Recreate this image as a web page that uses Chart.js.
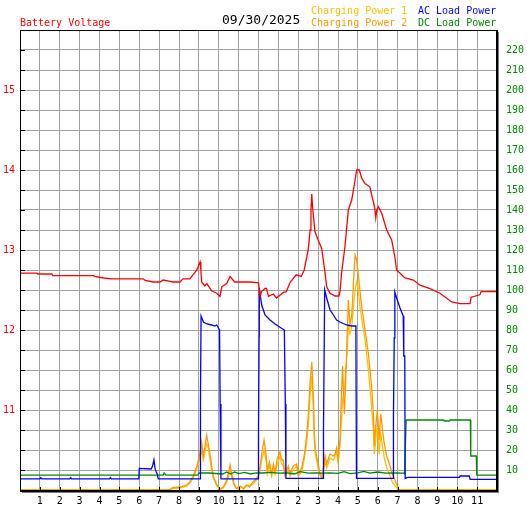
<!DOCTYPE html>
<html>
<head>
<meta charset="utf-8">
<script src="https://cdn.jsdelivr.net/npm/chart.js"></script>
<style>
  body { margin: 0; background: #fff; }
  #wrap { position: relative; width: 527px; height: 510px; }
  .lbl { position: absolute; font-family: "DejaVu Sans Mono", monospace; font-size: 10px; line-height: 12px; white-space: pre; }
  #date { font-size: 13px; line-height: 15px; }
</style>
</head>
<body>
<div id="wrap">
  <canvas id="powerChart" width="527" height="510"></canvas>
  <div class="lbl" style="left:20px; top:17px; color:#ff0000;">Battery Voltage</div>
  <div class="lbl" id="date" style="left:222px; top:12px; color:#000;">09/30/2025</div>
  <div class="lbl" style="left:311px; top:5px; color:#ffc000;">Charging Power 1</div>
  <div class="lbl" style="left:311px; top:17px; color:#ff9900;">Charging Power 2</div>
  <div class="lbl" style="left:418px; top:5px; color:#0000ff;">AC Load Power</div>
  <div class="lbl" style="left:418px; top:17px; color:#008800;">DC Load Power</div>
</div>
<script>
// battery voltage (hour of day, volts)
const voltTimes = [0, 0.84, 0.9, 1.6, 1.65, 3.7, 3.75, 4.2, 4.6, 6.2, 6.3, 6.7, 7.05, 7.2, 7.5, 7.7, 8.05, 8.2, 8.55, 8.7, 8.9, 9.06, 9.1, 9.14, 9.3, 9.4, 9.64, 9.9, 10.06, 10.15, 10.4, 10.57, 10.8, 11.57, 12.0, 12.08, 12.15, 12.33, 12.4, 12.5, 12.75, 12.9, 13.25, 13.4, 13.6, 13.9, 14.15, 14.3, 14.5, 14.6, 14.64, 14.68, 14.72, 14.84, 15.0, 15.18, 15.26, 15.35, 15.43, 15.6, 15.85, 16.05, 16.1, 16.18, 16.35, 16.52, 16.69, 16.86, 16.94, 17.07, 17.19, 17.36, 17.6, 17.78, 17.85, 17.9, 17.95, 18.03, 18.2, 18.45, 18.7, 18.87, 18.95, 19.2, 19.37, 19.79, 20.13, 20.6, 21.13, 21.72, 22.14, 22.64, 22.7, 23.14, 23.2, 24];
const voltValues = [12.71, 12.71, 12.70, 12.70, 12.68, 12.68, 12.67, 12.65, 12.64, 12.64, 12.62, 12.60, 12.60, 12.625, 12.61, 12.60, 12.60, 12.64, 12.64, 12.69, 12.75, 12.85, 12.75, 12.60, 12.55, 12.58, 12.49, 12.46, 12.42, 12.54, 12.58, 12.67, 12.60, 12.60, 12.59, 12.42, 12.48, 12.52, 12.52, 12.42, 12.45, 12.40, 12.47, 12.48, 12.60, 12.69, 12.67, 12.75, 13.0, 13.25, 13.5, 13.70, 13.54, 13.23, 13.125, 13.02, 12.875, 12.71, 12.54, 12.46, 12.425, 12.425, 12.48, 12.71, 13.04, 13.5, 13.625, 13.875, 14.0, 14.0, 13.9, 13.83, 13.79, 13.6, 13.52, 13.4, 13.5, 13.54, 13.46, 13.25, 13.125, 12.9, 12.75, 12.69, 12.65, 12.625, 12.56, 12.52, 12.46, 12.35, 12.33, 12.33, 12.41, 12.44, 12.48, 12.48];

// AC load power (watts)
const acTimes = [0, 1.0, 1.05, 1.1, 2.5, 2.55, 2.6, 4.5, 4.55, 4.6, 5.98, 6.0, 6.6, 6.67, 6.74, 6.8, 6.9, 6.96, 9.06, 9.08, 9.11, 9.23, 9.4, 9.65, 9.8, 9.9, 10.04, 10.07, 10.11, 11.98, 12.0, 12.03, 12.04, 12.16, 12.33, 12.58, 12.83, 13.08, 13.3, 13.35, 13.38, 15.25, 15.27, 15.33, 15.43, 15.6, 15.77, 15.93, 16.1, 16.43, 16.69, 16.9, 16.93, 18.77, 18.79, 18.83, 18.86, 18.95, 19.12, 19.2, 19.28, 19.31, 19.36, 19.38, 19.5, 22.1, 22.15, 22.6, 22.65, 24];
const acValues = [5.6, 5.6, 6.2, 5.6, 5.6, 6.2, 5.6, 5.6, 6.2, 5.6, 5.6, 10.8, 10.5, 12, 15, 10.3, 8, 5.6, 5.6, 46, 87, 84, 83, 82.5, 82, 82.5, 80, 43, 5.6, 5.6, 29, 77, 101, 92.5, 87.5, 85, 83, 81.4, 80, 43, 5.8, 5.8, 30, 100, 96, 90, 87.5, 85, 84, 82.5, 82, 82, 5.8, 5.8, 37, 76, 99, 96, 91, 89, 87, 67, 67, 5.8, 6.3, 6.3, 7, 7, 5.3, 5.3];

// DC load power (watts)
const dcTimes = [0, 7.2, 7.25, 7.35, 8.95, 9.0, 9.5, 10.2, 10.4, 10.6, 10.8, 11.0, 11.3, 11.6, 11.9, 12.2, 12.6, 13.0, 13.4, 13.8, 14.1, 14.5, 14.9, 15.2, 15.6, 16.0, 16.3, 16.6, 17.0, 17.3, 17.6, 18.0, 18.4, 18.8, 19.3, 19.35, 19.38, 19.43, 21.3, 21.35, 21.6, 21.65, 22.66, 22.68, 22.96, 22.98, 24];
const dcValues = [7.4, 7.4, 8.5, 7.4, 7.4, 8.5, 8.5, 8.0, 9.0, 8.0, 9.0, 8.2, 8.8, 8.0, 8.6, 8.5, 8.8, 8.4, 8.6, 8.0, 9.2, 8.4, 8.6, 8.4, 8.6, 8.3, 9.2, 8.2, 8.6, 9.3, 8.4, 9.0, 8.4, 8.6, 8.4, 8, 20, 35, 35, 34.5, 34.5, 35, 35, 17, 17, 7.4, 7.4];

// charging power 1 and 2 (watts)
const chgTimes = [0, 7.5, 7.7, 8.05, 8.39, 8.55, 8.72, 8.89, 9.02, 9.1, 9.14, 9.22, 9.31, 9.39, 9.47, 9.56, 9.64, 9.73, 9.9, 10.06, 10.23, 10.4, 10.5, 10.57, 10.65, 10.77, 10.9, 11.1, 11.25, 11.4, 11.55, 11.66, 11.82, 11.99, 12.08, 12.16, 12.28, 12.38, 12.44, 12.55, 12.66, 12.75, 12.83, 12.95, 13.08, 13.17, 13.25, 13.33, 13.5, 13.59, 13.75, 13.92, 14.0, 14.17, 14.26, 14.34, 14.42, 14.51, 14.59, 14.68, 14.76, 14.8, 14.86, 15.0, 15.1, 15.2, 15.35, 15.43, 15.6, 15.77, 15.85, 15.93, 16.0, 16.1, 16.18, 16.23, 16.32, 16.39, 16.47, 16.52, 16.6, 16.69, 16.77, 16.86, 16.94, 17.02, 17.1, 17.19, 17.36, 17.53, 17.69, 17.78, 17.83, 17.9, 17.98, 18.07, 18.15, 18.24, 18.33, 18.45, 18.62, 18.73, 18.87, 19.0, 19.07, 24];
const chg1Values = [0, 0, 0.8, 1.0, 2.0, 3.5, 6, 10.5, 15, 18, 20, 15, 19, 23, 21, 15, 10, 6, 2, 0.3, 1, 4, 7, 10.8, 7, 2.5, 0.5, 1, 1.5, 2, 2.5, 2.5, 4, 6, 10, 15, 20, 15, 8, 12, 7, 11, 8, 13, 17, 13, 12, 7, 10, 7, 10, 12, 7, 9, 13, 18, 23, 33, 47, 57, 42, 27, 18, 11, 7, 6, 14, 11, 16, 15, 17, 19, 14, 22, 35, 45, 50, 60, 70, 83, 78, 82, 90, 100, 104, 100, 92, 86, 75, 60, 42, 30, 18, 25, 32, 18, 28, 22, 16, 11, 7, 4, 2, 0.8, 0, 0];
const chg2Values = [0, 0, 1.3, 1.5, 2.5, 4.2, 7, 11.7, 16.7, 21, 24, 17, 22, 27.5, 23, 18, 12, 7, 2.5, 0.5, 1.5, 5, 9, 12.5, 8, 3, 0.8, 2, 0.5, 2.5, 1.5, 3.3, 5, 7, 12, 18, 25, 18, 10, 14, 8, 13, 9, 16, 19, 15, 15, 8, 12, 8, 12, 13, 8, 11, 15, 20, 27, 38, 53, 64, 47, 30, 20, 13, 8, 7, 17, 13, 18, 17, 18, 21, 15, 25, 50, 62, 38, 55, 80, 95, 83, 87, 102, 117.5, 115, 108, 100, 92, 80, 68, 52, 38, 22, 32, 40, 25, 38, 30, 23, 17, 12, 8, 5, 1.7, 0, 0];

const toPoints = (xs, ys) => xs.map((x, i) => ({ x: x, y: ys[i] }));
const hourLabel = (v) => (v <= 0 || v >= 24) ? '' : String(v % 12 === 0 ? 12 : v % 12);

// frame round the plot area, with small black ticks on the left and bottom edges
const framePlugin = {
  id: 'frame',
  afterDatasetsDraw(chart) {
    const { ctx, chartArea: a, scales } = chart;
    const w = a.right - a.left;
    const h = a.bottom - a.top;
    ctx.save();
    ctx.fillStyle = '#000';
    scales.yV.ticks.forEach((t) => {
      const y = Math.round(scales.yV.getPixelForValue(t.value));
      ctx.fillRect(a.left, y, 5, 1);
    });
    scales.x.ticks.forEach((t) => {
      const x = Math.round(scales.x.getPixelForValue(t.value));
      ctx.fillRect(x, a.bottom - 3, 1, 3);
    });
    ctx.fillRect(a.left, a.top, w, 1);          // top
    ctx.fillRect(a.left, a.top, 1, h + 2);      // left
    ctx.fillRect(a.right - 1, a.top, 2, h + 2); // right
    ctx.fillRect(a.left, a.bottom, w + 1, 2);   // bottom
    ctx.fillStyle = '#808080';
    ctx.fillRect(a.right + 1, a.top + 2, 1, h + 1);
    ctx.fillRect(a.left + 2, a.bottom + 2, w, 1);
    ctx.restore();
  }
};

const ctx = document.querySelector('#powerChart').getContext('2d');
const powerChart = new Chart(ctx, {
  type: 'line',
  data: {
    datasets: [
      { label: 'Battery Voltage', data: toPoints(voltTimes, voltValues), yAxisID: 'yV', borderColor: '#ff0000' },
      { label: 'AC Load Power', data: toPoints(acTimes, acValues), yAxisID: 'yP', borderColor: '#0000ff' },
      { label: 'DC Load Power', data: toPoints(dcTimes, dcValues), yAxisID: 'yP', borderColor: '#008800' },
      { label: 'Charging Power 2', data: toPoints(chgTimes, chg2Values), yAxisID: 'yP', borderColor: '#ff9900' },
      { label: 'Charging Power 1', data: toPoints(chgTimes, chg1Values), yAxisID: 'yP', borderColor: '#ffc000' }
    ]
  },
  options: {
    responsive: false,
    animation: false,
    devicePixelRatio: 1,
    layout: { padding: { top: 30, left: 0, right: 0, bottom: 0 } },
    elements: {
      line: { borderWidth: 1.3, tension: 0, fill: false },
      point: { radius: 0 }
    },
    plugins: {
      legend: { display: false },
      title: { display: false },
      tooltip: { enabled: false }
    },
    scales: {
      x: {
        type: 'linear',
        min: 0,
        max: 24,
        afterFit: (s) => { s.height = 20; },
        grid: { color: '#a0a0a0', drawTicks: false },
        border: { display: false },
        ticks: {
          stepSize: 1,
          autoSkip: false,
          maxRotation: 0,
          padding: 5,
          color: '#000',
          font: { family: 'DejaVu Sans Mono', size: 10 },
          callback: hourLabel
        }
      },
      yV: {
        type: 'linear',
        position: 'left',
        min: 10,
        max: 15.75,
        afterFit: (s) => { s.width = 20; },
        grid: { color: '#a0a0a0', drawTicks: false },
        border: { display: false },
        ticks: {
          stepSize: 0.25,
          autoSkip: false,
          padding: 5,
          color: '#ff0000',
          font: { family: 'DejaVu Sans Mono', size: 10 },
          callback: (v) => (Number.isInteger(v) && v > 10) ? String(v) : ''
        }
      },
      yP: {
        type: 'linear',
        position: 'right',
        min: 0,
        max: 230,
        afterFit: (s) => { s.width = 30; },
        grid: { drawOnChartArea: false, drawTicks: false },
        border: { display: false },
        ticks: {
          stepSize: 10,
          autoSkip: false,
          padding: 9,
          color: '#008800',
          font: { family: 'DejaVu Sans Mono', size: 10 },
          callback: (v) => (v > 0 && v < 230) ? String(v) : ''
        }
      }
    }
  },
  plugins: [framePlugin]
});
</script>
</body>
</html>
